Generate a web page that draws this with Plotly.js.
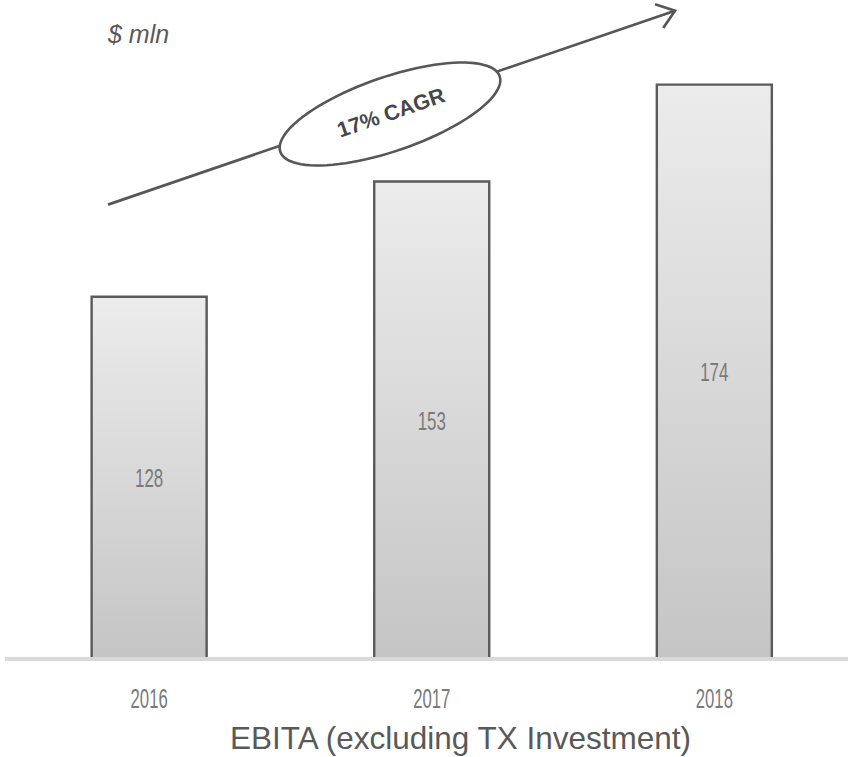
<!DOCTYPE html>
<html>
<head>
<meta charset="utf-8">
<script src="https://cdn.plot.ly/plotly-3.0.1.min.js"></script>
<style>html,body{margin:0;padding:0;background:#fff;}#chart{width:848px;height:757px;}</style>
</head>
<body>
<div id="chart"></div>
<script>
// ---- data ----
var years = ['2016', '2017', '2018'];
var ebita = [128, 153, 174];
var unitLabel = '$ mln';
var growthLabel = '17% CAGR';
var chartTitle = 'EBITA (excluding TX Investment)';

// ---- layout geometry ----
var W = 848, H = 757;
var M = {l: 5, r: 0, t: 20, b: 100};
var PW = W - M.l - M.r, PH = H - M.t - M.b;
var yMin = 49.9, yMax = 188.0;
var xMin = -0.51, xMax = 2.473;
var barW = 0.407;

function px2x(px) { return (px - M.l) / PW; }
function py2y(py) { return (H - M.b - py) / PH; }

var sans = '"Liberation Sans", Arial, sans-serif';

var traces = [];
ebita.forEach(function (v, i) {
  traces.push({
    type: 'scatter', mode: 'lines', fill: 'toself',
    x: [i - barW / 2, i - barW / 2, i + barW / 2, i + barW / 2],
    y: [yMin, v, v, yMin],
    line: {color: '#5a5a5a', width: 2.4},
    fillgradient: {type: 'vertical', start: yMin, stop: v,
      colorscale: [[0, '#c5c5c5'], [1, '#ececec']]},
    hoverinfo: 'skip', showlegend: false
  });
});
traces.push({
  type: 'scatter', mode: 'text',
  x: years.map(function (_, i) { return i; }),
  y: ebita.map(function (v) { return (v + yMin) / 2 - 0.9; }),
  text: ebita.map(String),
  textfont: {family: sans, size: 25, color: '#7a7a7a'},
  hoverinfo: 'skip', showlegend: false
});

// arrow line
var p0 = [108, 204.6], tip = [675, 10.7];
var dx = tip[0] - p0[0], dy = tip[1] - p0[1];
var len = Math.sqrt(dx * dx + dy * dy);
var rx = -dx / len, ry = -dy / len;
function rot(a) { var c = Math.cos(a), s = Math.sin(a); return [rx * c - ry * s, rx * s + ry * c]; }
var armLen = 21, armAng = 37 * Math.PI / 180;
var a1 = rot(armAng), a2 = rot(-armAng);
var arm1 = [tip[0] + armLen * a1[0], tip[1] + armLen * a1[1]];
var arm2 = [tip[0] + armLen * a2[0], tip[1] + armLen * a2[1]];

// ellipse
var ec = [390, 114], ea = 116, eb = 37, eth = -19 * Math.PI / 180;
var ep = '';
for (var k = 0; k <= 96; k++) {
  var t = 2 * Math.PI * k / 96;
  var ux = ea * Math.cos(t), uy = eb * Math.sin(t);
  var X = ec[0] + ux * Math.cos(eth) - uy * Math.sin(eth);
  var Y = ec[1] + ux * Math.sin(eth) + uy * Math.cos(eth);
  ep += (k === 0 ? 'M' : 'L') + px2x(X).toFixed(5) + ',' + py2y(Y).toFixed(5);
}
ep += 'Z';

var shapes = [
  {type: 'line', xref: 'paper', yref: 'paper',
   x0: px2x(p0[0]), y0: py2y(p0[1]), x1: px2x(tip[0]), y1: py2y(tip[1]),
   line: {color: '#575757', width: 2.7}},
  {type: 'path', xref: 'paper', yref: 'paper', path: ep,
   fillcolor: '#ffffff', line: {color: '#575757', width: 2.6}},
  {type: 'path', xref: 'paper', yref: 'paper',
   path: 'M' + px2x(arm1[0]) + ',' + py2y(arm1[1]) + 'L' + px2x(tip[0]) + ',' + py2y(tip[1]) +
         'L' + px2x(arm2[0]) + ',' + py2y(arm2[1]),
   line: {color: '#575757', width: 2.7}}
];

var annotations = [
  {xref: 'paper', yref: 'paper', x: px2x(137.5), y: py2y(34), text: unitLabel,
   showarrow: false, xanchor: 'center', yanchor: 'middle',
   font: {family: sans, size: 25, color: '#595959', style: 'italic'}},
  {xref: 'paper', yref: 'paper', x: px2x(391), y: py2y(113), text: '<b>' + growthLabel + '</b>',
   showarrow: false, xanchor: 'center', yanchor: 'middle', textangle: -19,
   font: {family: sans, size: 21.5, color: '#474747'}},
  {xref: 'paper', yref: 'paper', x: px2x(460.5), y: py2y(738), text: chartTitle,
   showarrow: false, xanchor: 'center', yanchor: 'middle',
   font: {family: sans, size: 31.5, color: '#595959'}}
];

var layout = {
  width: W, height: H, margin: M,
  paper_bgcolor: '#ffffff', plot_bgcolor: '#ffffff',
  showlegend: false,
  xaxis: {range: [xMin, xMax], tickmode: 'array', tickvals: [0, 1, 2], ticktext: years,
    showgrid: false, zeroline: false, showline: true, linecolor: '#d9d9d9', linewidth: 4,
    ticks: '', ticklabelstandoff: 15,
    tickfont: {family: sans, size: 27, color: '#7a7a7a'}, fixedrange: true},
  yaxis: {range: [yMin, yMax], visible: false, showgrid: false, zeroline: false, fixedrange: true},
  shapes: shapes, annotations: annotations
};

// condensed look of the numeric labels (original uses a narrow face)
function condense(sel, perChar) {
  document.querySelectorAll(sel).forEach(function (el) {
    var n = (el.textContent || '').length;
    if (n) {
      el.setAttribute('textLength', (perChar * n).toFixed(1));
      el.setAttribute('lengthAdjust', 'spacingAndGlyphs');
    }
  });
}

Plotly.newPlot('chart', traces, layout, {displayModeBar: false, staticPlot: true}).then(function () {
  condense('#chart .xtick text', 9.3);
  condense('#chart .textpoint text', 9.4);
});
</script>
</body>
</html>
